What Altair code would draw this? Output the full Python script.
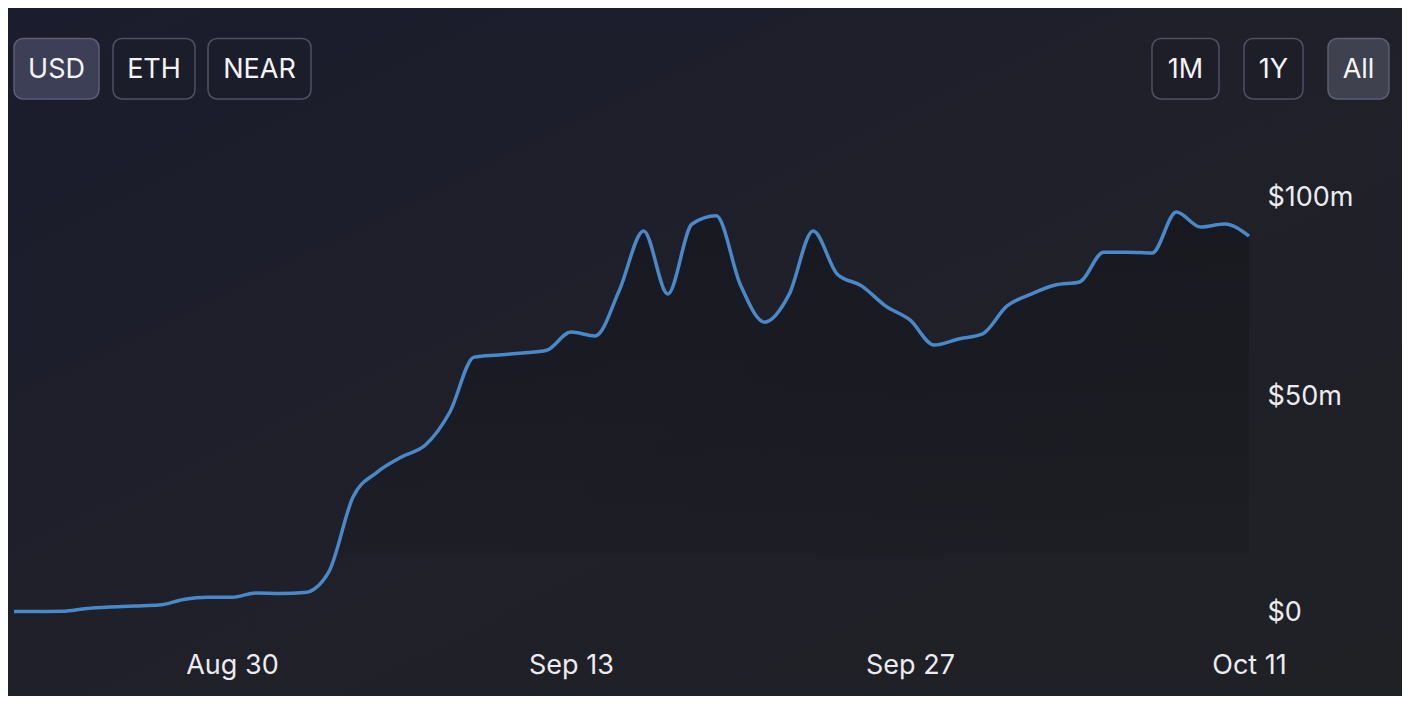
import altair as alt
import pandas as pd

# ---- data ----
start_date = "2021-08-21"
tvl_musd = [
    0.1, 0.1, 0.15, 0.8, 1.16, 1.39, 1.6, 2.9, 3.4, 3.4,
    4.4, 4.3, 4.5, 9.3, 26.6, 32.4, 35.9, 38.7, 46.3, 59.0,
    59.5, 59.95, 60.6, 64.8, 63.9, 74.5, 88.2, 73.6, 89.8, 91.7,
    75.7, 67.1, 73.4, 88.2, 78.2, 75.5, 70.8, 67.6, 61.8, 63.2,
    64.4, 70.8, 73.6, 75.7, 76.4, 83.3, 83.3, 83.1, 92.6, 89.1,
    89.8, 87.0,
]
x_tick_dates = ["2021-08-30", "2021-09-13", "2021-09-27", "2021-10-11"]
y_tick_values = [0, 50, 100]
button_labels = ["USD", "ETH", "NEAR", "1M", "1Y", "All"]
selected_buttons = ["USD", "All"]

df = pd.DataFrame({
    "date": pd.date_range(start_date, periods=len(tvl_musd), freq="D"),
    "value": tvl_musd,
})

FONT = "Inter"
TEXT_COLOR = "#ececf0"
one = pd.DataFrame({"k": [0]})

x_enc = alt.X(
    "date:T",
    scale=alt.Scale(domain=[alt.DateTime(year=2021, month=8, date=21),
                            alt.DateTime(year=2021, month=10, date=11)], nice=False),
    axis=alt.Axis(
        values=[alt.DateTime(year=int(d[:4]), month=int(d[5:7]), date=int(d[8:])) for d in x_tick_dates],
        format="%b %-d", title=None, grid=False, domain=False, ticks=False, tickSize=0,
        labelPadding=53, labelBaseline="middle", labelFont=FONT, labelFontSize=27,
        labelColor=TEXT_COLOR, labelAngle=0, labelFlush=False, labelOverlap=False, zindex=2,
    ),
)
y_enc = alt.Y(
    "value:Q",
    scale=alt.Scale(domain=[0, 100], nice=False, zero=True),
    axis=alt.Axis(
        orient="right", values=y_tick_values, title=None, grid=False, domain=False,
        ticks=False, tickSize=0, labelPadding=18, labelAlign="left", labelBaseline="middle",
        labelExpr="'$' + datum.value + (datum.value > 0 ? 'm' : '')",
        labelFont=FONT, labelFontSize=27, labelColor=TEXT_COLOR, zindex=2,
        labelOffset={"condition": {"test": "datum.value == 100", "value": 17.5}, "value": 0},
    ),
)

# background (full canvas, relative to plot origin)
bg = alt.Chart(one).mark_rect(
    fill=alt.Gradient(gradient="linear", x1=0, y1=0, x2=1, y2=1,
                      stops=[alt.GradientStop(color="#1b1c2d", offset=0),
                             alt.GradientStop(color="#1f2029", offset=0.5),
                             alt.GradientStop(color="#202125", offset=1)]),
).encode(x=alt.value(-6), x2=alt.value(1388), y=alt.value(-172), y2=alt.value(516))

area = alt.Chart(df).mark_area(
    interpolate="monotone",
    fill=alt.Gradient(gradient="linear", x1=0, y1=0, x2=0, y2=1,
                      stops=[alt.GradientStop(color="rgba(8,8,12,0.30)", offset=0),
                             alt.GradientStop(color="rgba(8,8,12,0.10)", offset=0.85),
                             alt.GradientStop(color="rgba(8,8,12,0)", offset=0.87)]),
).encode(x=x_enc, y=y_enc)

line = alt.Chart(df).mark_line(
    interpolate="monotone", color="#4a89c9", strokeWidth=3.5,
).encode(x=x_enc, y=y_enc)

# buttons: (x0, x1) in plot pixel coordinates
btn_geom = {
    "USD": (0, 85), "ETH": (99, 181), "NEAR": (194, 297),
    "1M": (1138, 1205), "1Y": (1230, 1289), "All": (1314, 1375),
}
layers = [bg, area, line]
for lab in button_labels:
    x0, x1 = btn_geom[lab]
    sel = lab in selected_buttons
    fill = ("#3c3f55" if lab == "USD" else "#3f414e") if sel else ("#1c1d2b" if x0 < 600 else "#1d1e27")
    stroke = "#5b5e74" if sel else "#4d5065"
    rect = alt.Chart(one).mark_rect(
        fill=fill, stroke=stroke, strokeWidth=1.5, cornerRadius=9,
    ).encode(x=alt.value(x0), x2=alt.value(x1), y=alt.value(-141.5), y2=alt.value(-81))
    txt = alt.Chart(one).mark_text(
        text=lab, font=FONT, fontSize=27, color="#f4f4f7", align="center", baseline="middle",
    ).encode(x=alt.value((x0 + x1) / 2), y=alt.value(-110.5))
    layers += [rect, txt]

chart = alt.layer(*layers).properties(
    width=1235, height=432,
    padding={"left": 6, "top": 172, "right": 153, "bottom": 84},
    autosize=alt.AutoSizeParams(type="none"),
    background="#1e1f29",
).configure_view(stroke=None)

chart.save("out.html", embed_options={"renderer": "svg", "actions": False})
